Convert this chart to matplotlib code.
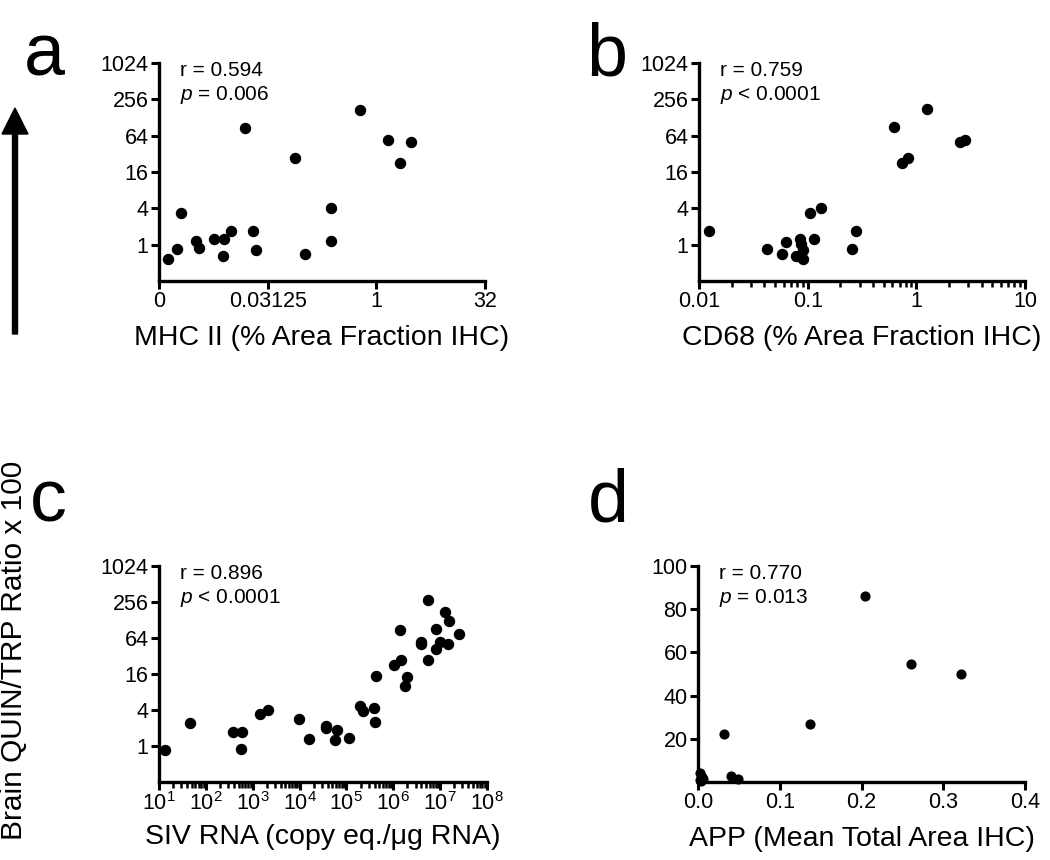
import numpy as np
import matplotlib
matplotlib.use("Agg")
import matplotlib.pyplot as plt
from matplotlib.ticker import LogLocator, NullLocator, NullFormatter

plt.rcParams['font.family'] = ['Liberation Sans', 'DejaVu Sans']
plt.rcParams['mathtext.fontset'] = 'custom'
plt.rcParams['mathtext.rm'] = 'Liberation Sans'
plt.rcParams['mathtext.it'] = 'Liberation Sans:italic'

# panel a: MHC II vs QUIN/TRP
mhc_x = [0.00132, 0.00175, 0.00197, 0.00317, 0.00350, 0.00569, 0.00772, 0.00755,
         0.00956, 0.0150, 0.0198, 0.0212, 0.0759, 0.104, 0.237, 0.237, 0.595,
         1.46, 2.13, 3.05]
mhc_y = [0.58, 0.86, 3.34, 1.13, 0.88, 1.24, 1.24, 0.66, 1.67, 86.8, 1.69, 0.81,
         27.1, 0.70, 4.06, 1.13, 171, 55, 22.3, 49.9]

# panel b: CD68 vs QUIN/TRP
cd68_x = [0.0124, 0.0420, 0.0581, 0.0637, 0.0776, 0.0843, 0.0875, 0.0906, 0.0906,
          0.104, 0.115, 0.134, 0.254, 0.277, 0.622, 0.743, 0.838, 1.26, 2.52, 2.80]
cd68_y = [1.69, 0.86, 0.70, 1.10, 0.66, 1.22, 1.04, 0.83, 0.58, 3.34, 1.22, 4.08,
          0.86, 1.69, 89, 22.3, 27.5, 174, 50.9, 55]

# panel c: SIV RNA vs QUIN/TRP
siv_x = [13.7, 46.9, 382, 605, 557, 1466, 2104, 9660, 15810, 36480, 36480, 56750,
         61800, 114800, 194100, 225400, 387300, 400000, 433500, 1.035e6, 1.39e6,
         1.48e6, 1.80e6, 1.99e6, 3.85e6, 3.85e6, 5.43e6, 5.43e6, 8.05e6, 8.17e6,
         1.01e7, 1.27e7, 1.53e7, 1.50e7, 2.57e7]
siv_y = [0.85, 2.43, 1.73, 1.73, 0.90, 3.41, 4.03, 2.87, 1.32, 2.19, 1.99, 1.28,
         1.88, 1.36, 4.59, 3.78, 4.26, 2.55, 14.7, 22.8, 88, 27.5, 10.1, 14.5,
         55.7, 50.6, 280, 27.5, 89, 41.6, 55.3, 171, 124, 50.6, 75]

# panel d: APP vs QUIN/TRP (linear)
app_x = [0.0323, 0.1367, 0.2044, 0.2603, 0.3212, 0.040, 0.049, 0.003, 0.005,
         0.002, 0.006, 0.004]
app_y = [22.3, 26.9, 86.0, 54.4, 49.8, 3.0, 1.2, 4.0, 2.5, 1.0, 1.5, 0.5]

log_yticks = [1, 4, 16, 64, 256, 1024]
mhc_xticks = [2 ** -10, 2 ** -5, 1, 32]
mhc_xlabels = ['0', '0.03125', '1', '32']

stats = [('0.594', '= 0.006'), ('0.759', '< 0.0001'), ('0.896', '< 0.0001'),
         ('0.770', '= 0.013')]

W, H = 1050, 860
fig = plt.figure(figsize=(10.5, 8.6), dpi=100)

TICK_FS = 15.5
LABEL_FS = 20.5
STAT_FS = 15


def make_ax(x0, x1, ytop, ybot):
    return fig.add_axes([x0 / W, 1 - ybot / H, (x1 - x0) / W, (ybot - ytop) / H])


def style(ax):
    for s in ['top', 'right']:
        ax.spines[s].set_visible(False)
    for s in ['left', 'bottom']:
        ax.spines[s].set_linewidth(2.4)
    ax.tick_params(which='major', length=6, width=2.2, labelsize=TICK_FS, pad=1.5)
    ax.tick_params(which='minor', length=4, width=1.8)


def stat_text(ax, r, p):
    ax.text(0.065, 1.01, 'r = ' + r, transform=ax.transAxes, fontsize=STAT_FS,
            va='top', ha='left')
    ax.text(0.065, 0.905, '$\\it{p}$ ' + p, transform=ax.transAxes, fontsize=STAT_FS,
            va='top', ha='left')


ax_a = make_ax(159, 485, 63, 281)
ax_b = make_ax(699, 1025, 63, 281)
ax_c = make_ax(159, 487, 566, 782)
ax_d = make_ax(698, 1025, 566, 782)

# a
ax_a.scatter(mhc_x, mhc_y, s=52, color='black', clip_on=False, zorder=3)
ax_a.set_xscale('log', base=2)
ax_a.set_yscale('log', base=2)
ax_a.set_xlim(2 ** -10, 32)
ax_a.set_ylim(0.25, 1024)
ax_a.set_xticks(mhc_xticks, mhc_xlabels)
ax_a.xaxis.set_minor_locator(NullLocator())
ax_a.set_xlabel('MHC II (% Area Fraction IHC)', fontsize=LABEL_FS, labelpad=9)

# b
ax_b.scatter(cd68_x, cd68_y, s=52, color='black', clip_on=False, zorder=3)
ax_b.set_xscale('log')
ax_b.set_yscale('log', base=2)
ax_b.set_xlim(0.01, 10)
ax_b.set_ylim(0.25, 1024)
ax_b.set_xticks([0.01, 0.1, 1, 10], ['0.01', '0.1', '1', '10'])
ax_b.xaxis.set_minor_locator(LogLocator(base=10, subs=np.arange(2, 10)))
ax_b.xaxis.set_minor_formatter(NullFormatter())
ax_b.set_xlabel('CD68 (% Area Fraction IHC)', fontsize=LABEL_FS, labelpad=9)

# c
ax_c.scatter(siv_x, siv_y, s=52, color='black', clip_on=False, zorder=3)
ax_c.set_xscale('log')
ax_c.set_yscale('log', base=2)
ax_c.set_xlim(10, 1e8)
ax_c.set_ylim(0.25, 1024)
siv_ticks = [10.0 ** k for k in range(1, 9)]
ax_c.set_xticks(siv_ticks, ['$\\mathregular{10^{%d}}$' % k for k in range(1, 9)])
ax_c.xaxis.set_minor_locator(LogLocator(base=10, subs=np.arange(2, 10), numticks=20))
ax_c.xaxis.set_minor_formatter(NullFormatter())
ax_c.set_xlabel('SIV RNA (copy eq./μg RNA)', fontsize=LABEL_FS, labelpad=6)

for ax in (ax_a, ax_b, ax_c):
    ax.set_yticks(log_yticks, [str(v) for v in log_yticks])
    ax.yaxis.set_minor_locator(NullLocator())

# d
ax_d.scatter(app_x, app_y, s=40, color='black', clip_on=False, zorder=3)
ax_d.set_xlim(0, 0.4)
ax_d.set_ylim(0, 100)
ax_d.set_xticks([0.0, 0.1, 0.2, 0.3, 0.4], ['0.0', '0.1', '0.2', '0.3', '0.4'])
ax_d.set_yticks([20, 40, 60, 80, 100])
ax_d.set_xlabel('APP (Mean Total Area IHC)', fontsize=LABEL_FS, labelpad=9)

for ax, (r, p) in zip((ax_a, ax_b, ax_c, ax_d), stats):
    style(ax)
    stat_text(ax, r, p)

# panel letters
for lab, x, y in [('a', 24, 76), ('b', 586, 76), ('c', 30, 521), ('d', 588, 521)]:
    fig.text(x / W, 1 - y / H, lab, fontsize=53, ha='left', va='baseline')

# shared y label with arrow
fig.text(14 / W, 1 - 650 / H, 'Brain QUIN/TRP Ratio x 100', rotation=90,
         fontsize=21.5, ha='center', va='center')
fig.patches.append(matplotlib.patches.FancyArrow(
    15 / W, 1 - 334 / H, 0, (334 - 108 - 26) / H, width=5 / W,
    head_width=26 / W, head_length=26 / H, length_includes_head=False,
    color='black', transform=fig.transFigure, figure=fig))

fig.savefig('out.png', dpi=100)
